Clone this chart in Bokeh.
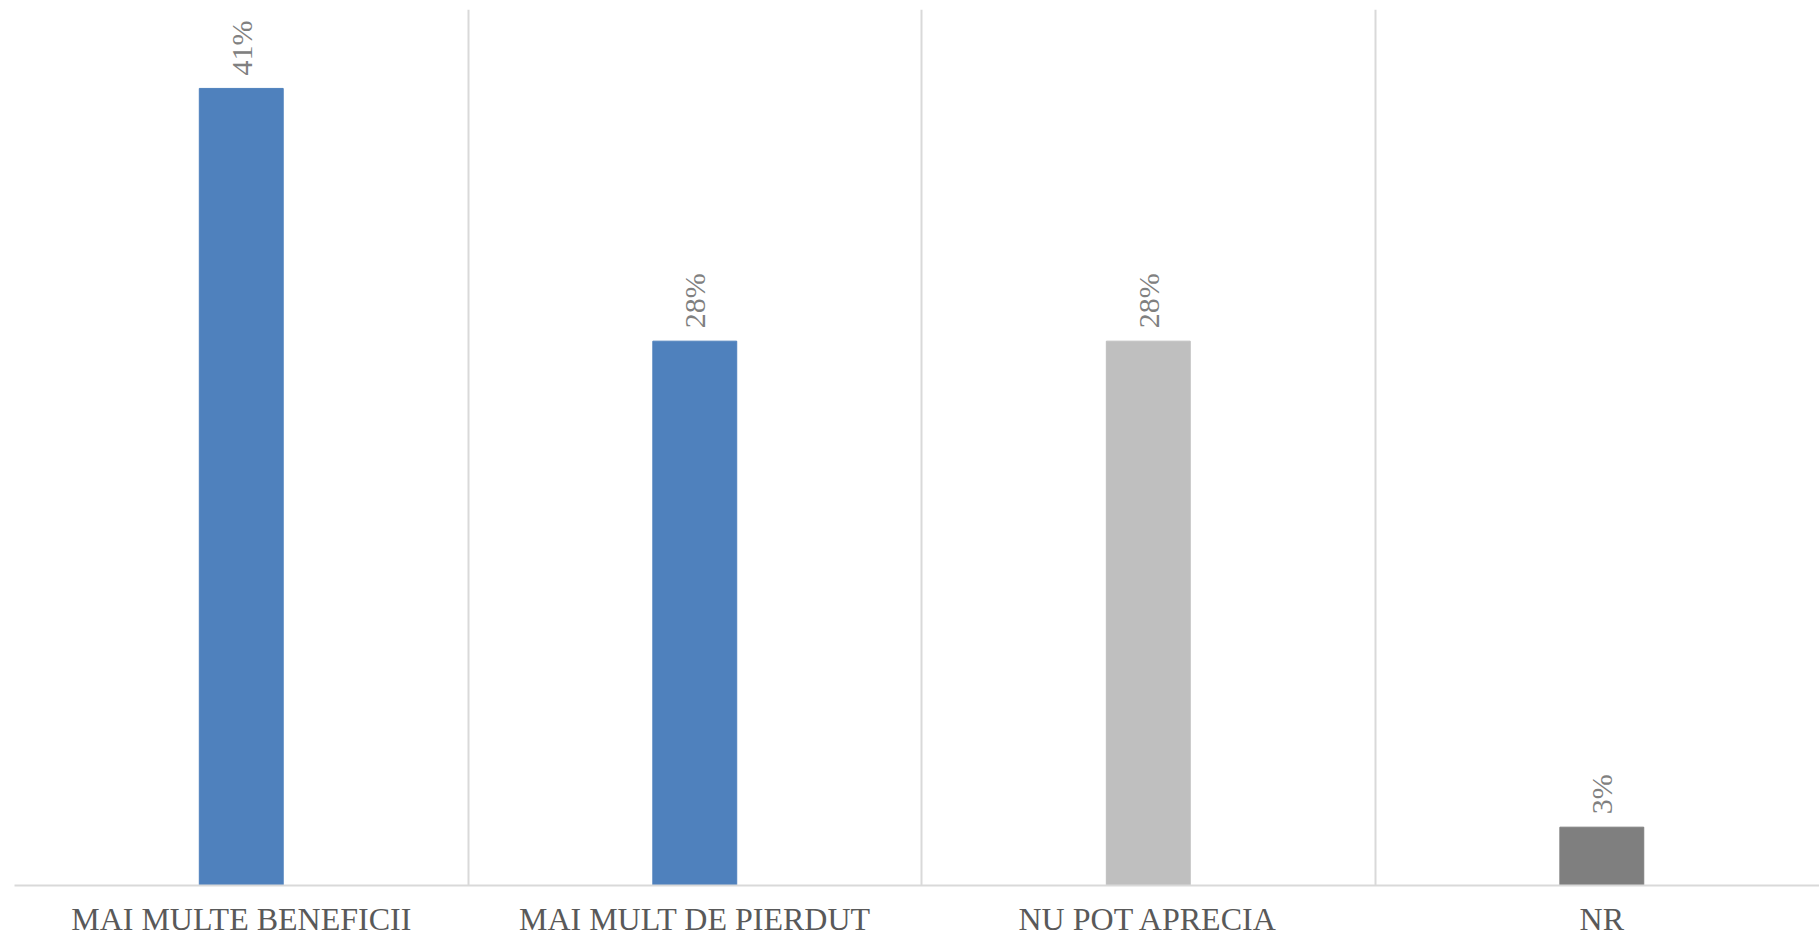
import math
from bokeh.plotting import figure
from bokeh.models import ColumnDataSource, FixedTicker, LabelSet, Range1d
from bokeh.embed import file_html
from bokeh.resources import INLINE

categories = ["MAI MULTE BENEFICII", "MAI MULT DE PIERDUT", "NU POT APRECIA", "NR"]
values = [41, 28, 28, 3]
colors = ["#4f81bd", "#4f81bd", "#bfbfbf", "#7f7f7f"]
labels = ["41%", "28%", "28%", "3%"]

xpos = [i + 0.5 for i in range(len(categories))]
src = ColumnDataSource(dict(x=xpos, top=values, color=colors, label=labels))

p = figure(width=1819, height=939, output_backend="svg", toolbar_location=None,
           x_range=Range1d(0, 3.98), y_range=Range1d(0, 45.06),
           min_border_left=14, min_border_right=0, min_border_top=9, min_border_bottom=0)
p.outline_line_color = None
p.background_fill_color = "white"
p.border_fill_color = "white"

p.vbar(x="x", top="top", bottom=0, width=0.185, color="color", source=src)

lbl = LabelSet(x="x", y="top", text="label", source=src, angle=math.pi / 2,
               text_align="left", text_baseline="middle", y_offset=13,
               text_font="Liberation Sans", text_font_size="30px", text_color="#808080")
p.add_layout(lbl)

p.yaxis.visible = False
p.ygrid.visible = False

p.xaxis.ticker = FixedTicker(ticks=xpos)
p.xaxis.major_label_overrides = {x: c for x, c in zip(xpos, categories)}
p.xaxis.major_tick_line_color = None
p.xaxis.minor_tick_line_color = None
p.xaxis.axis_line_color = "#d9d9d9"
p.xaxis.axis_line_width = 2
p.xaxis.major_label_text_font = "Liberation Serif"
p.xaxis.major_label_text_font_size = "32px"
p.xaxis.major_label_text_color = "#595959"
p.xaxis.major_label_standoff = 9

p.xgrid.ticker = FixedTicker(ticks=[0, 1, 2, 3, 4])
p.xgrid.grid_line_color = "#d9d9d9"
p.xgrid.grid_line_width = 2

open("out.html", "w").write(file_html(p, INLINE))
